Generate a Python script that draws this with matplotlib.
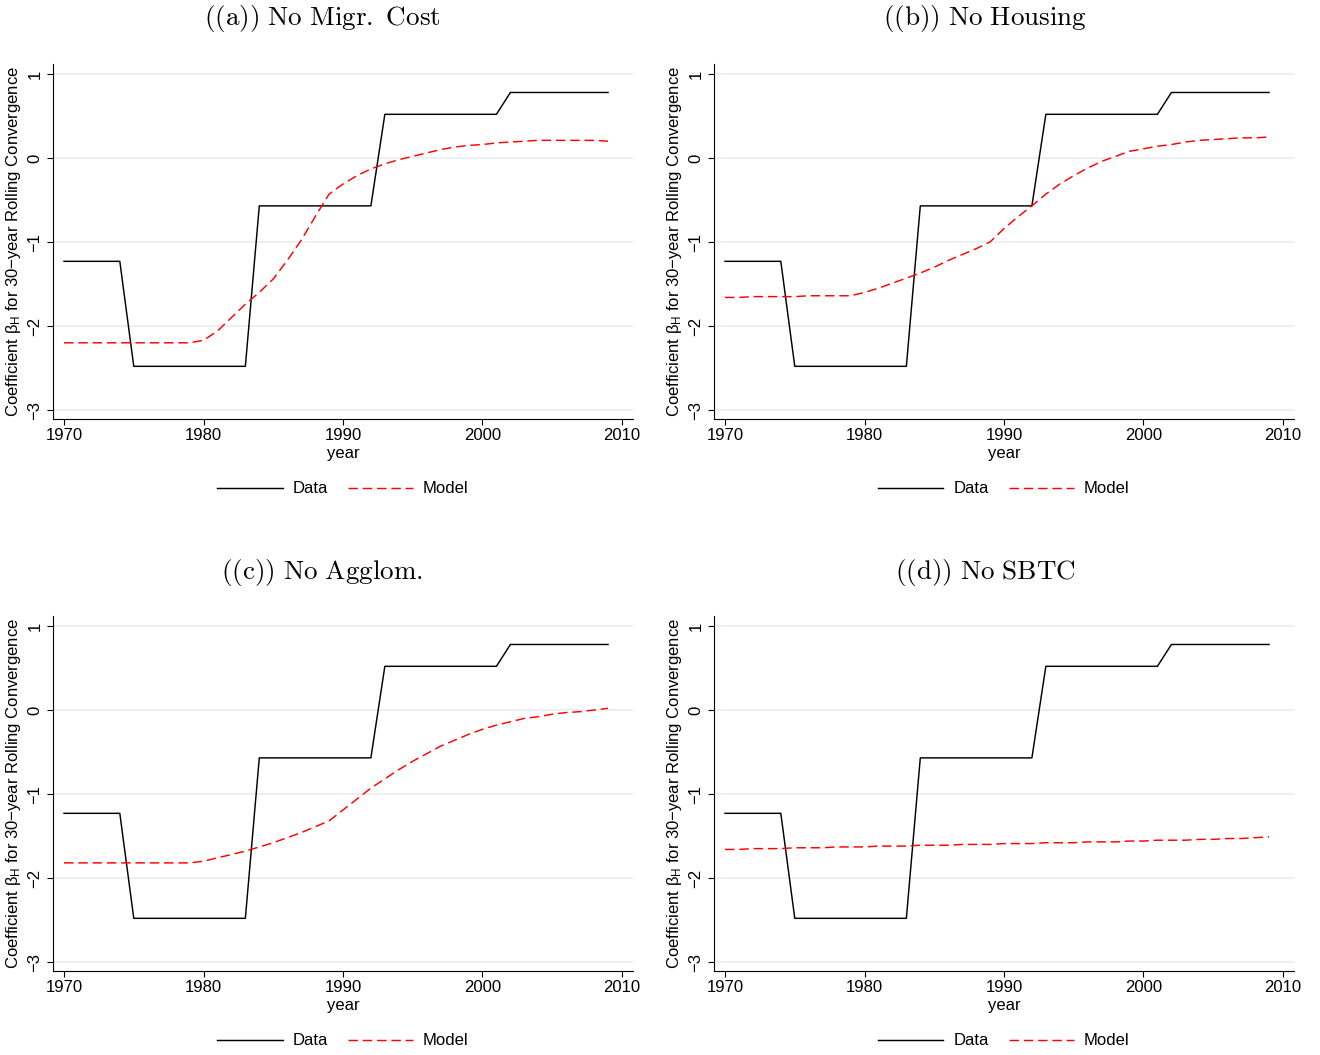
import matplotlib
matplotlib.use("Agg")
import matplotlib.pyplot as plt

plt.rcParams['font.family'] = ['Liberation Sans', 'DejaVu Sans']
plt.rcParams['mathtext.fontset'] = 'custom'
plt.rcParams['mathtext.rm'] = 'Liberation Sans'
plt.rcParams['mathtext.it'] = 'Liberation Sans'

years = list(range(1970, 2010))

data = ([-1.23] * 5 + [-2.48] * 9 + [-0.57] * 9 + [0.52] * 9 + [0.78] * 8)

model_a = [-2.20, -2.20, -2.20, -2.20, -2.20, -2.20, -2.20, -2.20, -2.20, -2.20,
           -2.17, -2.06, -1.90, -1.74, -1.60, -1.44, -1.22, -0.98, -0.70, -0.43,
           -0.31, -0.21, -0.13, -0.07, -0.02, 0.02, 0.06, 0.10, 0.13, 0.15,
           0.16, 0.18, 0.19, 0.20, 0.21, 0.21, 0.21, 0.21, 0.21, 0.20]

model_b = [-1.66, -1.66, -1.65, -1.65, -1.65, -1.65, -1.64, -1.64, -1.64, -1.64,
           -1.60, -1.55, -1.49, -1.43, -1.37, -1.30, -1.22, -1.15, -1.08, -1.00,
           -0.84, -0.70, -0.57, -0.43, -0.31, -0.21, -0.12, -0.04, 0.02, 0.08,
           0.11, 0.14, 0.16, 0.19, 0.21, 0.22, 0.23, 0.24, 0.24, 0.25]

model_c = [-1.82, -1.82, -1.82, -1.82, -1.82, -1.82, -1.82, -1.82, -1.82, -1.82,
           -1.80, -1.76, -1.72, -1.68, -1.63, -1.58, -1.52, -1.46, -1.39, -1.32,
           -1.19, -1.06, -0.93, -0.82, -0.71, -0.61, -0.52, -0.43, -0.36, -0.29,
           -0.23, -0.18, -0.14, -0.10, -0.08, -0.05, -0.03, -0.02, 0.00, 0.02]

model_d = [-1.66, -1.66, -1.65, -1.65, -1.65, -1.64, -1.64, -1.64, -1.63, -1.63,
           -1.63, -1.62, -1.62, -1.62, -1.61, -1.61, -1.61, -1.60, -1.60, -1.60,
           -1.59, -1.59, -1.59, -1.58, -1.58, -1.58, -1.57, -1.57, -1.57, -1.56,
           -1.56, -1.55, -1.55, -1.55, -1.54, -1.54, -1.53, -1.53, -1.52, -1.51]

titles = [r'$\mathrm{((a))\ No\ Migr.\ Cost}$',
          r'$\mathrm{((b))\ No\ Housing}$',
          r'$\mathrm{((c))\ No\ Agglom.}$',
          r'$\mathrm{((d))\ No\ SBTC}$']
models = [model_a, model_b, model_c, model_d]

xticks = [1970, 1980, 1990, 2000, 2010]
yticks = [-3, -2, -1, 0, 1]
ylabel = r'Coefficient $\beta_{\mathrm{H}}$ for 30$-$year Rolling Convergence'

W, H = 1320, 1055
fig = plt.figure(figsize=(W / 100, H / 100), dpi=100)

# pixel layout: (left, top) of each axes
lefts = [53, 714, 53, 714]
tops = [64, 64, 616, 616]
aw, ah = 580, 355
title_cx = [322, 985, 322, 985]
title_cy = [18, 18, 571, 571]

for i in range(4):
    ax = fig.add_axes([lefts[i] / W, 1 - (tops[i] + ah) / H, aw / W, ah / H])
    ax.plot(years, data, color='black', lw=1.05, label='Data')
    ln, = ax.plot(years, models[i], color='red', lw=1.05, label='Model')
    ln.set_dashes((6.5, 3.3))
    ax.set_xlim(1969.21, 2010.79)
    ax.set_ylim(-3.107, 1.119)
    ax.set_xticks(xticks)
    ax.set_yticks(yticks)
    ax.set_yticklabels([('\u2212' + str(-t)) if t < 0 else str(t) for t in yticks],
                       rotation=90, va='center')
    ax.grid(axis='y', color='#e8eff0', lw=1.2)
    ax.set_axisbelow(True)
    for s in ['top', 'right']:
        ax.spines[s].set_visible(False)
    for s in ['left', 'bottom']:
        ax.spines[s].set_linewidth(0.8)
    ax.tick_params(axis='both', direction='out', length=4.5, width=0.8,
                   labelsize=12, colors='black')
    ax.tick_params(axis='y', pad=3)
    ax.tick_params(axis='x', pad=2)
    ax.set_xlabel('year', fontsize=12)
    ax.xaxis.set_label_coords(0.5, -0.075)
    ax.set_ylabel(ylabel, fontsize=12)
    ax.yaxis.set_label_coords(-0.052, 0.5)
    ax.legend(loc='center', bbox_to_anchor=(0.5, -0.197), ncol=2, frameon=False,
              fontsize=12, handlelength=3.9, handletextpad=0.6,
              columnspacing=1.2)
    fig.text(title_cx[i] / W, 1 - (title_cy[i] + 1) / H, titles[i], fontsize=19.5,
             ha='center', va='center', math_fontfamily='cm')

fig.savefig('out.png', dpi=100, facecolor='white')
